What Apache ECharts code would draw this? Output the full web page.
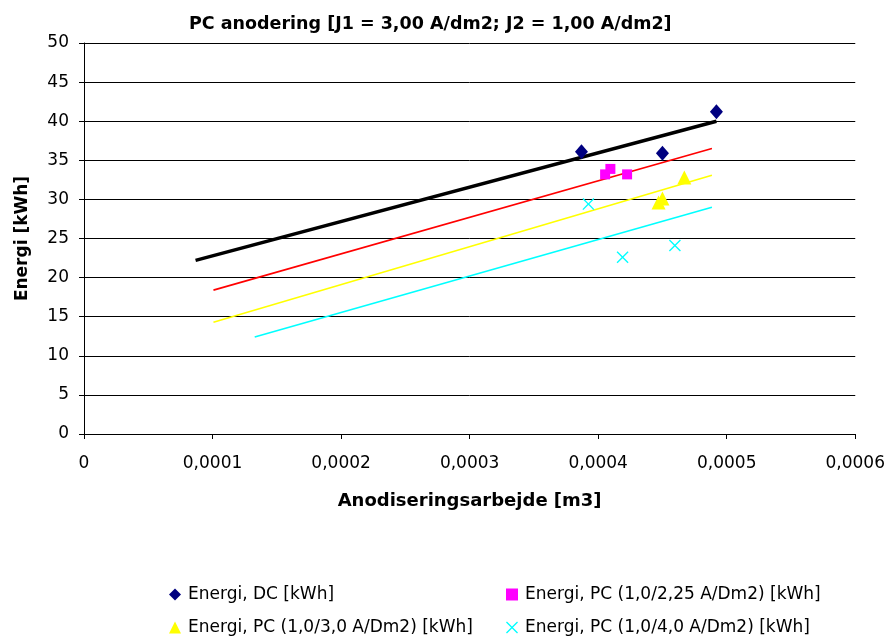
<!DOCTYPE html>
<html><head><meta charset="utf-8">
<script src="https://cdn.jsdelivr.net/npm/echarts@6/dist/echarts.min.js"></script>
<style>html,body{margin:0;padding:0;background:#fff}#c{width:888px;height:639px}</style>
</head><body><div id="c"></div>
<script>
const titleText = 'PC anodering [J1 = 3,00 A/dm2; J2 = 1,00 A/dm2]';
const xName = 'Anodiseringsarbejde [m3]';
const yName = 'Energi [kWh]';
const seriesNames = ['Energi, DC [kWh]', 'Energi, PC (1,0/2,25 A/Dm2) [kWh]', 'Energi, PC (1,0/3,0 A/Dm2) [kWh]', 'Energi, PC (1,0/4,0 A/Dm2) [kWh]'];
const xTickLabels = ['0', '0,0001', '0,0002', '0,0003', '0,0004', '0,0005', '0,0006'];
const yTickLabels = ['0', '5', '10', '15', '20', '25', '30', '35', '40', '45', '50'];

const dcX = [0.000387, 0.000450, 0.000492];
const dcY = [36.1, 35.9, 41.2];
const pc225X = [0.0004054, 0.0004095, 0.0004225];
const pc225Y = [33.2, 33.9, 33.2];
const pc30X = [0.000447, 0.000450, 0.000467];
const pc30Y = [29.6, 30.1, 32.8];
const pc40X = [0.0003924, 0.000419, 0.0004597];
const pc40Y = [29.4, 22.6, 24.1];

const dcTrendX = [0.0000868, 0.000492];
const dcTrendY = [22.2, 40.0];
const pc225TrendX = [0.0001007, 0.0004885];
const pc225TrendY = [18.4, 36.5];
const pc30TrendX = [0.0001007, 0.0004885];
const pc30TrendY = [14.3, 33.1];
const pc40TrendX = [0.0001328, 0.0004885];
const pc40TrendY = [12.4, 29.0];

const zip = (xs, ys) => xs.map((x, i) => [x, ys[i]]);
const FONT = 'DejaVu Sans';
const xMark = 'path://M0,1.6L1.6,0L10,8.4L18.4,0L20,1.6L11.6,10L20,18.4L18.4,20L10,11.6L1.6,20L0,18.4L8.4,10Z';

const legendBase = {
  orient: 'vertical', top: 586, padding: 0, height: 60,
  itemWidth: 12, itemHeight: 12, itemGap: 16,
  textStyle: {fontFamily: FONT, fontSize: 17, color: '#000', padding: [0, 0, 0, 2]}
};

const chart = echarts.init(document.getElementById('c'), null, {renderer: 'canvas'});
chart.setOption({
  animation: false,
  backgroundColor: '#fff',
  title: {
    text: titleText, left: 184, top: 10, textAlign: 'left',
    textStyle: {fontFamily: FONT, fontSize: 17.5, fontWeight: 'bold', color: '#000'}
  },
  grid: {left: 84, right: 32, top: 43, bottom: 205, containLabel: false},
  xAxis: {
    type: 'value', min: 0, max: 0.0006, interval: 0.0001,
    name: xName, nameLocation: 'middle', nameGap: 58,
    nameTextStyle: {fontFamily: FONT, fontSize: 18, fontWeight: 'bold', color: '#000'},
    axisLine: {show: true, lineStyle: {color: '#000', width: 1}},
    axisTick: {show: true, inside: false, length: 5, lineStyle: {color: '#000'}},
    axisLabel: {
      fontFamily: FONT, fontSize: 17, color: '#000', margin: 21,
      formatter: (v) => xTickLabels[Math.round(v / 0.0001)]
    },
    splitLine: {show: false}
  },
  yAxis: {
    type: 'value', min: 0, max: 50, interval: 5,
    name: yName, nameLocation: 'middle', nameGap: 53, nameRotate: 90,
    nameTextStyle: {fontFamily: FONT, fontSize: 17, fontWeight: 'bold', color: '#000'},
    axisLine: {show: true, lineStyle: {color: '#000', width: 1}},
    axisTick: {show: true, inside: false, length: 5, lineStyle: {color: '#000'}},
    axisLabel: {
      fontFamily: FONT, fontSize: 17, color: '#000', margin: 15,
      formatter: (v) => yTickLabels[Math.round(v / 5)]
    },
    splitLine: {show: true, lineStyle: {color: '#000', width: 1}}
  },
  legend: [
    Object.assign({}, legendBase, {data: [seriesNames[0], seriesNames[2]], left: 169}),
    Object.assign({}, legendBase, {data: [seriesNames[1], seriesNames[3]], left: 506})
  ],
  series: [
    {type: 'line', name: 'trendDC', data: zip(dcTrendX, dcTrendY), symbol: 'none', z: 2,
     lineStyle: {color: '#000', width: 3.5}, silent: true},
    {type: 'line', name: 'trend225', data: zip(pc225TrendX, pc225TrendY), symbol: 'none', z: 2,
     lineStyle: {color: '#ff0000', width: 1.6}, silent: true},
    {type: 'line', name: 'trend30', data: zip(pc30TrendX, pc30TrendY), symbol: 'none', z: 2,
     lineStyle: {color: '#ffff00', width: 1.6}, silent: true},
    {type: 'line', name: 'trend40', data: zip(pc40TrendX, pc40TrendY), symbol: 'none', z: 2,
     lineStyle: {color: '#00ffff', width: 1.6}, silent: true},
    {type: 'scatter', name: seriesNames[0], data: zip(dcX, dcY), symbol: 'diamond', symbolSize: [13, 15], z: 5,
     itemStyle: {color: '#000080', opacity: 1}},
    {type: 'scatter', name: seriesNames[1], data: zip(pc225X, pc225Y), symbol: 'rect', symbolSize: 10, z: 5,
     itemStyle: {color: '#ff00ff', opacity: 1}},
    {type: 'scatter', name: seriesNames[2], data: zip(pc30X, pc30Y), symbol: 'triangle', symbolSize: [14, 14], z: 5,
     itemStyle: {color: '#ffff00', opacity: 1}},
    {type: 'scatter', name: seriesNames[3], data: zip(pc40X, pc40Y), symbol: xMark, symbolSize: 12, z: 5,
     itemStyle: {color: '#00ffff', opacity: 1}}
  ]
});
</script></body></html>
